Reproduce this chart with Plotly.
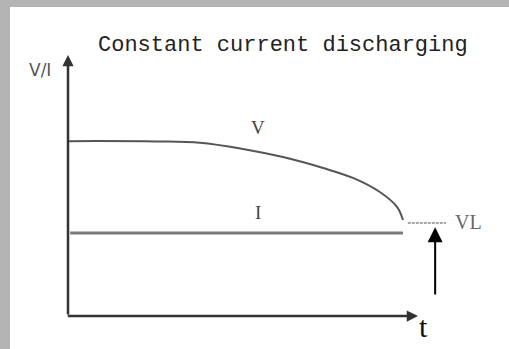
import plotly.graph_objects as go

# ---- data (time in arbitrary units, V/I in arbitrary units) ----
v_t = [0.0, 2.5, 3.77, 5.0, 6.14, 7.29, 8.14, 8.91, 9.4, 9.57]
v_val = [6.70, 6.69, 6.64, 6.40, 6.09, 5.67, 5.29, 4.75, 4.18, 3.68]
i_t = [0.06, 9.57]
i_val = [3.18, 3.18]
vl_t = [9.71, 10.8]
vl_val = [3.56, 3.56]
arrow_t = 10.49
arrow_from, arrow_to = 0.77, 3.40
title_text = "Constant current discharging"
y_label = "V/I"
x_label = "t"

X_MAX, Y_MAX = 12, 10
L, T, B = 68, 55, 33
W, H = 509, 349
plot_w = 35 * X_MAX
R = W - L - plot_w
plot_h = H - T - B

def px_x(p):
    return (p - L) / plot_w

def px_y(p):
    return (H - B - p) / plot_h

fig = go.Figure()
fig.add_trace(go.Scatter(x=v_t, y=v_val, mode="lines", line=dict(color="#555555", width=2), line_shape="spline", hoverinfo="skip"))
fig.add_trace(go.Scatter(x=i_t, y=i_val, mode="lines", line=dict(color="#7a7a7a", width=3), hoverinfo="skip"))
fig.add_trace(go.Scatter(x=vl_t, y=vl_val, mode="lines", line=dict(color="#8a8a8a", width=1.5, dash="3px,1px"), hoverinfo="skip"))

ann = []
# axes with arrow heads
ann.append(dict(x=0, y=Y_MAX, ax=0, ay=0, xref="x", yref="y", axref="x", ayref="y", showarrow=True,
                arrowhead=2, arrowsize=0.9, arrowwidth=2.5, arrowcolor="#333333", text=""))
ann.append(dict(x=10, y=0, ax=-0.05, ay=0, xref="x", yref="y", axref="x", ayref="y", showarrow=True,
                arrowhead=2, arrowsize=0.9, arrowwidth=2.5, arrowcolor="#333333", text=""))
# VL arrow
ann.append(dict(x=arrow_t, y=arrow_to, ax=arrow_t, ay=arrow_from, xref="x", yref="y", axref="x", ayref="y",
                showarrow=True, arrowhead=2, arrowsize=1.5, arrowwidth=2, arrowcolor="#000000", text=""))

def label(px, py, text, family, size, color):
    ann.append(dict(x=px_x(px), y=px_y(py), xref="paper", yref="paper", text=text, showarrow=False,
                    xanchor="center", yanchor="middle", font=dict(family=family, size=size, color=color)))

label(283, 46, title_text, "Liberation Mono", 22, "#222222")
label(40, 70, y_label, "DejaVu Sans", 17, "#555555")
label(258, 127, "V", "Liberation Serif", 19, "#444444")
label(258, 212, "I", "Liberation Serif", 19, "#444444")
label(468, 222, "VL", "Liberation Serif", 20, "#666666")
label(423, 326, x_label, "Liberation Serif", 30, "#111111")

GRAY = "#b4b4b4"
shapes = [
    dict(type="rect", xref="paper", yref="paper", x0=px_x(-2), x1=px_x(10), y0=px_y(H + 5), y1=px_y(-2),
         fillcolor=GRAY, line=dict(width=0), layer="below"),
    dict(type="rect", xref="paper", yref="paper", x0=px_x(-2), x1=px_x(W + 5), y0=px_y(7), y1=px_y(-2),
         fillcolor=GRAY, line=dict(width=0), layer="below"),
]

fig.update_layout(
    width=W, height=H, margin=dict(l=L, r=R, t=T, b=B),
    paper_bgcolor="white", plot_bgcolor="rgba(0,0,0,0)",
    showlegend=False, annotations=ann, shapes=shapes,
    xaxis=dict(range=[0, X_MAX], visible=False, fixedrange=True),
    yaxis=dict(range=[0, Y_MAX], visible=False, fixedrange=True),
)
fig.write_html("out.html", config={"displayModeBar": False},
               post_script="document.body.style.margin='0';document.body.style.overflow='hidden';")
